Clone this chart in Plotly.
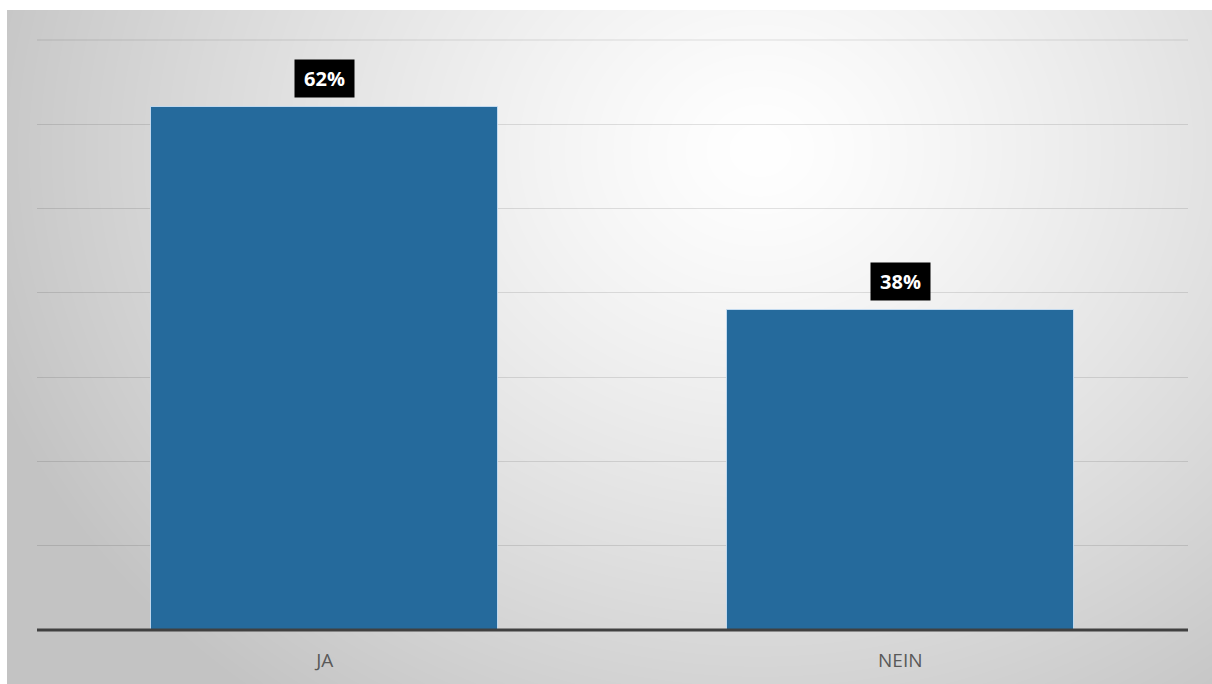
import base64, struct, zlib
import numpy as np
import plotly.graph_objects as go

# ---- data ----
categories = ["JA", "NEIN"]
values = [62, 38]
labels = ["62%", "38%"]

# ---- radial gradient background as PNG (styling only) ----
W, H = 1205, 674
yy, xx = np.mgrid[0:H, 0:W].astype(float)
d = np.sqrt(((xx - 753) / 820.0) ** 2 + ((yy - 140) / 700.0) ** 2)
d = np.clip(d, 0, 1) ** 1.25
img = (255 - 60 * d).astype(np.uint8)

def make_png(a):
    h, w = a.shape
    raw = b"".join(b"\x00" + a[i].tobytes() for i in range(h))
    def chunk(t, data):
        c = struct.pack(">I", len(data)) + t + data
        return c + struct.pack(">I", zlib.crc32(t + data) & 0xFFFFFFFF)
    return (b"\x89PNG\r\n\x1a\n" + chunk(b"IHDR", struct.pack(">IIBBBBB", w, h, 8, 0, 0, 0, 0))
            + chunk(b"IDAT", zlib.compress(raw, 9)) + chunk(b"IEND", b""))

src = "data:image/png;base64," + base64.b64encode(make_png(img)).decode()

FW, FH = 1212, 684
ml, mr, mt, mb = 37, 24, 40, 54

fig = go.Figure()
fig.add_trace(go.Bar(
    x=categories, y=values, width=0.603,
    marker=dict(color="#256a9c", line=dict(color="rgba(210,230,250,0.8)", width=1)),
    hoverinfo="skip",
))

for c, v, t in zip(categories, values, labels):
    fig.add_annotation(x=c, y=v, text="<b>%s</b>" % t, showarrow=False, yanchor="bottom",
                       yshift=9, bgcolor="black", borderpad=5, width=49, height=27,
                       font=dict(family="Open Sans", size=20, color="white"))

# top gridline (at range edge) and baseline
fig.add_shape(type="line", xref="paper", yref="paper", x0=0, x1=1, y0=1, y1=1,
              line=dict(color="rgba(0,0,0,0.11)", width=1))
fig.add_shape(type="line", xref="paper", yref="paper", x0=0, x1=1, y0=0, y1=0,
              line=dict(color="#404040", width=3))

fig.add_layout_image(dict(
    source=src, xref="paper", yref="paper",
    x=(7 - ml) / (FW - ml - mr), y=1 + (mt - 10) / (FH - mt - mb),
    sizex=W / (FW - ml - mr), sizey=H / (FH - mt - mb),
    xanchor="left", yanchor="top", sizing="stretch", layer="below",
))

fig.update_layout(
    width=FW, height=FH,
    margin=dict(l=ml, r=mr, t=mt, b=mb, autoexpand=False),
    paper_bgcolor="white", plot_bgcolor="rgba(0,0,0,0)",
    showlegend=False, bargap=0,
    font=dict(family="Open Sans", color="#595959"),
)
fig.update_xaxes(showgrid=False, showline=False, zeroline=False, automargin=False,
                 ticks="outside", ticklen=13, tickcolor="rgba(0,0,0,0)",
                 tickfont=dict(size=19, color="#595959"))
fig.update_yaxes(range=[0, 70], dtick=10, showgrid=True, gridcolor="rgba(0,0,0,0.11)",
                 gridwidth=1, showticklabels=False, zeroline=False, showline=False,
                 automargin=False)

fig.write_html("out.html")
